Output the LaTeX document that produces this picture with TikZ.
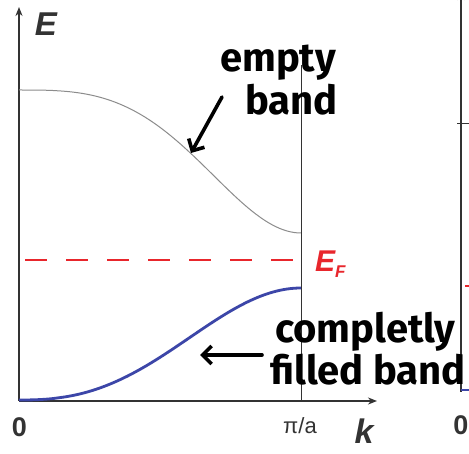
\documentclass[tikz,border=0pt]{standalone}
\usepackage{fontspec}
\setmainfont{Liberation Sans}
\newfontfamily\handfont{Fira Sans}
\usetikzlibrary{arrows.meta,positioning}
\definecolor{axisink}{HTML}{333333}
\definecolor{bandgray}{HTML}{8C8C8C}
\definecolor{fermired}{HTML}{E8262C}
\definecolor{bandblue}{HTML}{3C46A8}
\definecolor{penink}{HTML}{000000}
\tikzset{
  >={Stealth[length=9pt,width=7pt]},
  axis/.style={draw=axisink, line width=1.6pt, ->},
  zoneline/.style={draw=axisink, line width=1pt},
  emptyband/.style={draw=bandgray, line width=1pt},
  filledband/.style={draw=bandblue, line width=2.8pt},
  fermidash/.style={draw=fermired, line width=2.6pt,
    dash pattern=on 22pt off 19pt},
  axislabel/.style={inner sep=0pt, text=axisink},
  pen/.style={draw=penink, line width=3.6pt, line cap=round,
    line join=round, -{Straight Barb[length=9pt,width=18pt]}},
  handnote/.style={inner sep=0pt, anchor=base west, text=penink,
    font=\handfont\bfseries\fontsize{40}{40}\selectfont}
}
\begin{document}
\begin{tikzpicture}[x=1pt,y=1pt]
  \clip (0,0) rectangle (469,453);
  \fill[white] (0,0) rectangle (469,453);

  % -------------------------------------------------------------------
  % Axes and zone boundary.
  \coordinate (origin) at (19,52);
  \coordinate (Etip) at (19,446);
  \coordinate (ktip) at (377,52);
  \coordinate (zoneBottom) at (301,52);
  \coordinate (zoneTop) at (301,388);
  \draw[axis] (origin) -- (Etip);
  \draw[axis] (origin) -- (ktip);
  \draw[zoneline] (zoneBottom) -- (zoneTop);

  \node[axislabel, font=\bfseries\itshape\fontsize{33}{33}\selectfont]
    (Elabel) at (46,429) {E};
  \node[axislabel, font=\bfseries\fontsize{27}{27}\selectfont] (zeroLabel)
    at (19.5,25.5) {0};
  \node[axislabel, font=\fontsize{22}{22}\selectfont] (piLabel)
    at (300,27) {π/a};
  \node[axislabel, font=\bfseries\itshape\fontsize{34}{34}\selectfont]
    (kLabel) at (364,22) {k};

  % -------------------------------------------------------------------
  % Bands and Fermi level.
  \draw[emptyband] (19,363) -- plot[domain=0.01:1, samples=80]
    ({19+282*\x}, {363-143*(1-cos(180*\x^1.55))/2});
  \draw[filledband] (19,53) -- plot[domain=0.01:1, samples=80]
    ({19+282*\x}, {53+112*(1-cos(180*\x^1.24))/2});

  \coordinate (fermiStart) at (25,193);
  \coordinate (fermiEnd) at (301,193);
  \draw[fermidash] (fermiStart) -- (fermiEnd);
  \node[axislabel, anchor=base west, text=fermired,
    font=\bfseries\itshape\fontsize{30}{30}\selectfont] (EFlabel)
    at (315,181) {E\raisebox{-6pt}{\fontsize{17}{17}\selectfont F}};

  % -------------------------------------------------------------------
  % Neighbouring plot, cut off at the right edge.
  \coordinate (rightOrigin) at (461,61);
  \coordinate (rightTip) at (461,462);
  \draw[axis] (rightOrigin) -- (rightTip);
  \draw[zoneline, line width=.8pt] (457,330) -- (472,330);
  \draw[fermidash] (465,167) -- (480,167);
  \draw[filledband] (461,63) -- (480,63);
  \node[axislabel, font=\bfseries\fontsize{27}{27}\selectfont]
    (rightZero) at (461,28) {0};

  % -------------------------------------------------------------------
  % Handwritten notes.
  \node[handnote] (emptyWord) at (220,381) {empty};
  \node[handnote] (bandWord) at (245,338) {band};
  \coordinate (emptyFrom) at (222,356);
  \coordinate (emptyTo) at (191,300);
  \draw[pen] (emptyFrom) -- (emptyTo);

  \node[handnote] (completlyWord) at (275,110) {completly};
  \node[handnote] (filledWord) at (270,68) {filled band};
  \coordinate (filledFrom) at (262,98);
  \coordinate (filledTo) at (200,98);
  \draw[pen] (filledFrom) -- (filledTo);
\end{tikzpicture}
\end{document}
